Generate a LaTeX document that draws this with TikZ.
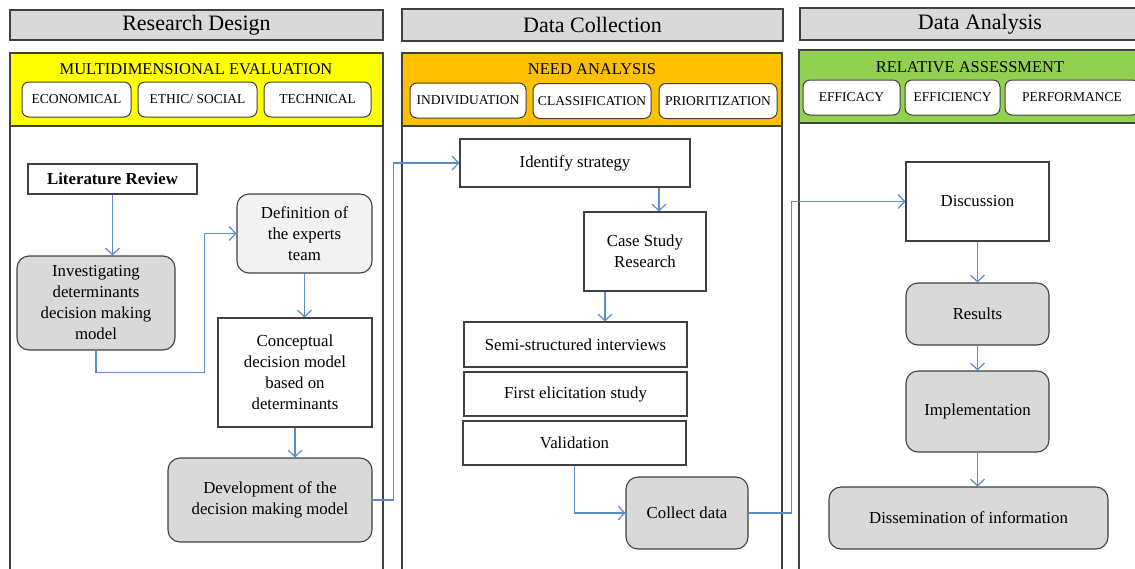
\documentclass[tikz,border=0pt]{standalone}
\usepackage{fontspec}
\setmainfont{Liberation Serif}
\usetikzlibrary{arrows.meta}

\definecolor{titlegray}{HTML}{D9D9D9}
\definecolor{boxgray}{HTML}{D9D9D9}
\definecolor{palegray}{HTML}{F2F2F2}
\definecolor{evalyellow}{HTML}{FFFF00}
\definecolor{needorange}{HTML}{FFC000}
\definecolor{assessgreen}{HTML}{92D050}
\definecolor{linkblue}{HTML}{5B8BC9}
\definecolor{edgegray}{HTML}{404040}

\tikzset{
	headbox/.style={draw=edgegray,fill=titlegray,line width=1.2pt,inner sep=0pt,font=\fontsize{22}{26}\selectfont},
	panel/.style={draw=edgegray,line width=1.3pt},
	headtext/.style={inner sep=0pt,font=\fontsize{16.5}{20}\selectfont},
	tagbox/.style={draw=edgegray,fill=white,line width=1pt,rounded corners=7pt,inner sep=0pt,minimum height=35,font=\fontsize{13.5}{15}\selectfont},
	plainbox/.style={draw=edgegray,fill=white,line width=1.1pt,inner sep=2pt,align=center,font=\fontsize{16.8}{21}\selectfont},
	roundbox/.style={plainbox,fill=boxgray,rounded corners=12pt},
	link/.style={draw=linkblue,line width=1.2pt,-{Straight Barb[length=6.5pt,width=14pt]}}
}

\begin{document}
\begin{tikzpicture}[x=1pt,y=-1pt]
	\useasboundingbox (0,0) rectangle (1135,568);
	\clip (0,0) rectangle (1135,568);
	% stage titles
	\node[headbox,minimum width=373,minimum height=30] (rd) at (196.5,25) {Research Design};
	\node[headbox,minimum width=381,minimum height=32] (dc) at (592.5,25) {Data Collection};
	\node[headbox,minimum width=360,minimum height=32] (da) at (980,24) {Data Analysis};
	% panels with coloured heads
	\foreach \l/\r/\t/\c in {10/383/53/evalyellow,402/782/53/needorange,799/1160/50/assessgreen} {
		\fill[\c] (\l,\t) rectangle (\r,\t+73);
		\draw[panel] (\l,590) |- (\r,\t) -- (\r,590) (\l,\t+73) -- (\r,\t+73);
	}
	\node[headtext] (me) at (196,69) {MULTIDIMENSIONAL EVALUATION};
	\node[headtext] (na) at (592,69) {NEED ANALYSIS};
	\node[headtext] (ra) at (970,67) {RELATIVE ASSESSMENT};
	\foreach \n/\x/\y/\w/\t in {eco/76.5/99.5/109/ECONOMICAL,eth/197.5/99.5/119/{ETHIC/ SOCIAL},tec/317.5/99.5/107/TECHNICAL,
		ind/468/100.5/116/INDIVIDUATION,cla/592/101/118/CLASSIFICATION,pri/718/101/118/PRIORITIZATION,
		efa/851.5/97.5/97/EFFICACY,efi/952.5/97.5/95/EFFICIENCY,per/1072/97.5/134/PERFORMANCE}
		\node[tagbox,minimum width=\w] (\n) at (\x,\y) {\t};
	% research design
	\node[plainbox,minimum width=169,minimum height=30,font=\fontsize{16.8}{21}\selectfont\bfseries] (lit) at (112.5,179) {Literature Review};
	\node[roundbox,minimum width=158,minimum height=94] (inv) at (96,303) {Investigating\\determinants\\decision making\\model};
	\node[roundbox,fill=palegray,minimum width=135,minimum height=79] (def) at (304.5,233.5) {Definition of\\the experts\\team};
	\node[plainbox,minimum width=154,minimum height=109] (con) at (295,372.5) {Conceptual\\decision model\\based on\\determinants};
	\node[roundbox,minimum width=204,minimum height=84] (dev) at (270,500) {Development of the\\decision making model};
	% data collection
	\node[plainbox,minimum width=230,minimum height=48] (ide) at (575,163) {Identify strategy};
	\node[plainbox,minimum width=122,minimum height=79] (cas) at (645,251.5) {Case Study\\Research};
	\node[plainbox,minimum width=223,minimum height=45] (sem) at (575.5,344.5) {Semi-structured interviews};
	\node[plainbox,minimum width=223,minimum height=44] (fir) at (575.5,394) {First elicitation study};
	\node[plainbox,minimum width=223,minimum height=44] (val) at (574.5,443) {Validation};
	\node[roundbox,minimum width=122,minimum height=72] (col) at (687,513) {Collect data};
	% data analysis
	\node[plainbox,minimum width=143,minimum height=79] (dis) at (977.5,201.5) {Discussion};
	\node[roundbox,minimum width=143,minimum height=62] (res) at (977.5,314) {Results};
	\node[roundbox,minimum width=143,minimum height=81] (imp) at (977.5,411.5) {Implementation};
	\node[roundbox,minimum width=279,minimum height=62] (dse) at (968.5,518) {Dissemination of information};
	% connectors
	\draw[link] (lit.south) -- (lit.south |- inv.north);
	\draw[link] (inv.south) -- ++(0,22) -| ([xshift=-32]def.west) -- (def.west);
	\draw[link] (def.south) -- (def.south |- con.north);
	\draw[link] (con.south) -- (con.south |- dev.north);
	\draw[link] (dev.east) -- ++(21,0) |- (ide.west);
	\draw[link] ([xshift=84]ide.south) -- ([xshift=14]cas.north);
	\draw[link] ([xshift=-40]cas.south) -- ([xshift=29.5]sem.north);
	\draw[link] (val.south) |- (col.west);
	\draw[link] (col.east) -- ++(43,0) |- (dis.west);
	\draw[link] (dis.south) -- (res.north);
	\draw[link] (res.south) -- (imp.north);
	\draw[link] (imp.south) -- (imp.south |- dse.north);
\end{tikzpicture}
\end{document}
